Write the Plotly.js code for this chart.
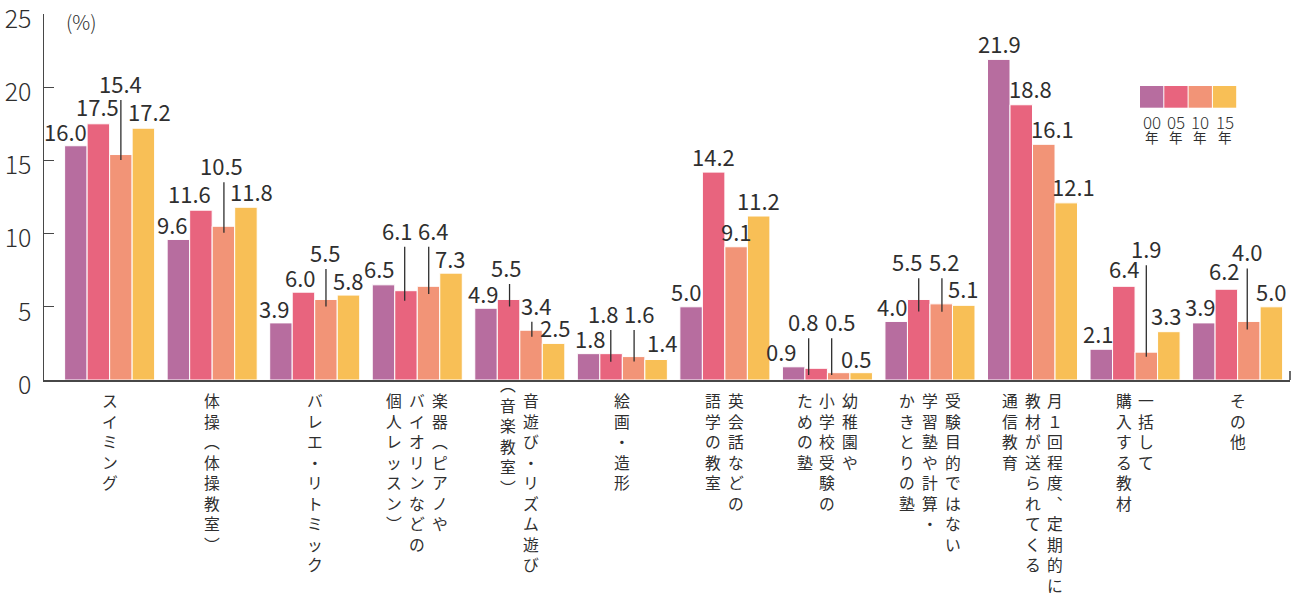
<!DOCTYPE html>
<html>
<head>
<meta charset="utf-8">
<script src="https://cdn.plot.ly/plotly-3.0.1.min.js"></script>
<style>html,body{margin:0;padding:0;background:#fff;}#chart{width:1295px;height:597px;}</style>
</head>
<body>
<div id="chart"></div>
<script>
// ---------------- DATA ----------------
const categories = [
  'スイミング', '体操（体操教室）', 'バレエ・リトミック',
  '楽器（ピアノやバイオリンなどの個人レッスン）', '音遊び・リズム遊び（音楽教室）',
  '絵画・造形', '英会話などの語学の教室', '幼稚園や小学校受験のための塾',
  '受験目的ではない学習塾や計算・かきとりの塾',
  '月1回程度、定期的に教材が送られてくる通信教育', '一括して購入する教材', 'その他'
];
// tick labels as printed: vertical columns, right to left
const tickColumns = [
  ['スイミング'],
  ['体操（体操教室）'],
  ['バレエ・リトミック'],
  ['楽器（ピアノや', 'バイオリンなどの', '個人レッスン）'],
  ['音遊び・リズム遊び', '（音楽教室）'],
  ['絵画・造形'],
  ['英会話などの', '語学の教室'],
  ['幼稚園や', '小学校受験の', 'ための塾'],
  ['受験目的ではない', '学習塾や計算・', 'かきとりの塾'],
  ['月１回程度、定期的に', '教材が送られてくる', '通信教育'],
  ['一括して', '購入する教材'],
  ['その他']
];
const seriesNames = ['00年', '05年', '10年', '15年'];
const legendTop = ['00', '05', '10', '15'];
const legendBottom = '年';
const y00 = [16.0, 9.6, 3.9, 6.5, 4.9, 1.8, 5.0, 0.9, 4.0, 21.9, 2.1, 3.9];
const y05 = [17.5, 11.6, 6.0, 6.1, 5.5, 1.8, 14.2, 0.8, 5.5, 18.8, 6.4, 6.2];
const y10 = [15.4, 10.5, 5.5, 6.4, 3.4, 1.6, 9.1, 0.5, 5.2, 16.1, 1.9, 4.0];
const y15 = [17.2, 11.8, 5.8, 7.3, 2.5, 1.4, 11.2, 0.5, 5.1, 12.1, 3.3, 5.0];
const yTicks = [0, 5, 10, 15, 20, 25];

// ---------------- STYLE ----------------
const colors = ['#b76d9f', '#e8647e', '#f29477', '#f8bf56'];
const FONT = '"Noto Sans CJK JP", "Noto Sans", sans-serif';
const TXT = '#2f2f2f';
const AX = '#474747';
const BARGAP = 0.122;
const barW = (1 - BARGAP) / 4;

// value-label placement (pixels): text dx, text lift above bar top, leader depth into bar (null=no leader), leader dx
const labDx = [
  [-10, -6, -6, -3.5, -3, 1.5, -5, -12, -4, 1, -3, -3],
  [-1, -11, -3, -8.5, -1.7, -7.5, 0, -13, -11, 9.7, 1, -2],
  [0, -2, 0, 5, 5.5, 5.5, 0, 1.5, 3.5, 9, 0, -1.5],
  [6, 5.7, 0, -1, 2, 6.7, 0, -5, 0, 7.7, -2.5, 0]
];
const labLift = [
  [3, 3, 3, 4.5, 3, 3.5, 3.5, 3.5, 3, 4.5, 4.3, 4.5],
  [5.5, 5.2, 3.2, 49, 20.5, 28.6, 4, 35, 26.2, 4.8, 6.3, 7.5],
  [59.5, 49, 35.5, 44.6, 13.5, 31.6, 3.5, 39.4, 30.6, 4.3, 92, 58],
  [4.9, 3.9, 3.3, 3.1, 4.4, 5.2, 4.3, 2.7, 5.3, 4.6, 4.4, 3.5]
];
const leadInto = [
  [null, null, null, null, null, null, null, null, null, null, null, null],
  [null, null, null, 10, 7, 8, null, 6.7, 12, null, null, null],
  [5.5, 6.4, 7, 7.7, 6.5, 5, null, 2.3, 8, null, 4.5, 8],
  [null, null, null, null, null, null, null, null, null, null, null, null]
];
const leadDx = [
  [0, 0, 0, 0, 0, 0, 0, 0, 0, 0, 0, 0],
  [0, 0, 0, -1.3, 1, -0.3, 0, -7.5, 0, 0, 0, 0],
  [0, 0.5, 0, 0.2, 0.8, 0.5, 0, -7, 0.7, 0, 0, -1.6],
  [0, 0, 0, 0, 0, 0, 0, 0, 0, 0, 0, 0]
];

const VAL_FONT = 22;
const GLYPH_DESC = 5;     // box bottom -> digit baseline
const LEAD_GAP = 5;       // text bottom -> leader top

const allY = [y00, y05, y10, y15];
const idx = categories.map((_, i) => i);

const traces = allY.map((ys, s) => ({
  type: 'bar', x: idx, y: ys, name: seriesNames[s],
  marker: { color: colors[s], line: { color: '#ffffff', width: 1 } },
  showlegend: false, hoverinfo: 'skip'
}));

const annotations = [];
const shapes = [];

allY.forEach((ys, s) => {
  ys.forEach((v, i) => {
    const xc = i + (s - 1.5) * barW;
    annotations.push({
      xref: 'x', yref: 'y', x: xc, y: v, text: v.toFixed(1), showarrow: false,
      xanchor: 'center', yanchor: 'bottom', xshift: labDx[s][i],
      yshift: labLift[s][i] - GLYPH_DESC, borderpad: 0,
      font: { family: FONT, size: VAL_FONT, color: TXT }
    });
    if (leadInto[s][i] !== null) {
      shapes.push({
        type: 'line', xref: 'x', yref: 'y', xsizemode: 'pixel', ysizemode: 'pixel',
        xanchor: xc, yanchor: v, x0: leadDx[s][i], x1: leadDx[s][i],
        y0: -leadInto[s][i], y1: labLift[s][i] - LEAD_GAP,
        line: { color: '#2e2e2e', width: 1.3 }
      });
    }
  });
});

// vertical category labels: one annotation per column, one character per line
const COL_PITCH = 22.8, CAT_FONT = 15.8, TOP_SHIFT = -8;
const vmap = { '（': '︵', '）': '︶', '、': '︑' };
tickColumns.forEach((cols, i) => {
  const n = cols.length;
  cols.forEach((col, j) => {
    const off = ((n - 1) / 2 - j) * COL_PITCH;
    const chars = [...col];
    const lead = chars[0] === '（' ? 16 : 0;
    annotations.push({
      xref: 'x', yref: 'paper', x: i, y: 0, showarrow: false,
      text: chars.map(c => vmap[c] || c).join('<br>'),
      xanchor: 'center', yanchor: 'top', align: 'center', borderpad: 0,
      xshift: off, yshift: TOP_SHIFT + lead,
      font: { family: FONT, size: CAT_FONT, color: TXT }
    });
  });
});

// (%) unit
annotations.push({
  xref: 'paper', yref: 'paper', x: 0, y: 1, xanchor: 'left', yanchor: 'middle',
  xshift: 20, yshift: -7, text: '(%)', showarrow: false,
  font: { family: FONT, size: 20, color: TXT, weight: 300 }
});

// legend
const LEG_X = (1140 - 44) / 1246;
colors.forEach((c, s) => {
  shapes.push({
    type: 'rect', xref: 'paper', yref: 'paper', xsizemode: 'pixel', ysizemode: 'pixel',
    xanchor: LEG_X, yanchor: 1, x0: s * 24.3, x1: s * 24.3 + 23.3, y0: -93.7, y1: -72,
    fillcolor: c, line: { width: 0 }
  });
  annotations.push({
    xref: 'paper', yref: 'paper', x: LEG_X, y: 1, xanchor: 'center', yanchor: 'middle',
    xshift: s * 24.3 + 11.6, yshift: -107, text: legendTop[s], showarrow: false, borderpad: 0,
    font: { family: FONT, size: 17, color: TXT, weight: 300 }
  });
  annotations.push({
    xref: 'paper', yref: 'paper', x: LEG_X, y: 1, xanchor: 'center', yanchor: 'middle',
    xshift: s * 24.3 + 11.6, yshift: -123, text: legendBottom, showarrow: false, borderpad: 0,
    font: { family: FONT, size: 13.5, color: TXT }
  });
});

// short end tick at right of x axis
shapes.push({
  type: 'line', xref: 'paper', yref: 'paper', ysizemode: 'pixel', yanchor: 0,
  x0: 1, x1: 1, y0: 0, y1: 9, line: { color: AX, width: 1.6 }
});

const layout = {
  width: 1295, height: 597,
  margin: { l: 44, r: 5, t: 14, b: 217, pad: 0 },
  paper_bgcolor: '#ffffff', plot_bgcolor: '#ffffff',
  barmode: 'group', bargap: BARGAP, bargroupgap: 0,
  showlegend: false, hovermode: false,
  xaxis: {
    type: 'linear', range: [-0.64, 11.511], showgrid: false, zeroline: false,
    showticklabels: false, ticks: '', showline: true, linecolor: AX, linewidth: 2,
    fixedrange: true
  },
  yaxis: {
    range: [0, 25], tickvals: yTicks, ticktext: yTicks.map(String),
    showgrid: false, zeroline: false, ticks: 'inside', ticklen: 10, tickwidth: 1.4,
    tickcolor: AX, showline: true, linecolor: AX, linewidth: 1.5,
    tickfont: { family: FONT, size: 25, color: TXT, weight: 300 }, ticklabelstandoff: 6,
    ticklabelshift: 5, ticklabeloverflow: 'allow',
    fixedrange: true
  },
  annotations: annotations,
  shapes: shapes
};

Plotly.newPlot('chart', traces, layout, { displayModeBar: false, staticPlot: true });
</script>
</body>
</html>
